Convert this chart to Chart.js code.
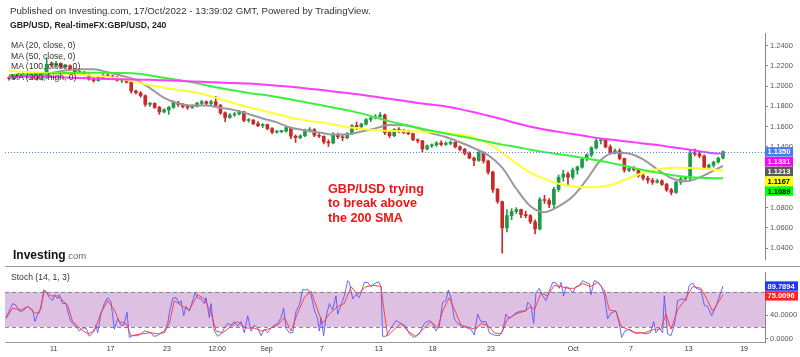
<!DOCTYPE html>
<html><head><meta charset="utf-8">
<script src="https://cdn.jsdelivr.net/npm/chart.js@4/dist/chart.umd.min.js"></script>
<style>
html,body{margin:0;padding:0;background:#fff;}
#wrap{position:relative;width:800px;height:357px;overflow:hidden;font-family:"Liberation Sans",Arial,sans-serif;}
#cA{position:absolute;left:0;top:0;}
#cB{position:absolute;left:0;top:266px;}
.t{position:absolute;white-space:nowrap;color:#333;line-height:12px;}
</style></head><body>
<div id="wrap">
<canvas id="cA" width="800" height="266"></canvas>
<canvas id="cB" width="800" height="91"></canvas>
<div class="t" style="left:10px;top:5px;font-size:9.7px;">Published on Investing.com, 17/Oct/2022 - 13:39:02 GMT, Powered by TradingView.</div>
<div class="t" style="left:10px;top:19px;font-size:8.7px;font-weight:bold;color:#222;">GBP/USD, Real-timeFX:GBP/USD, 240</div>
<div class="t" style="left:11px;top:39px;font-size:8.6px;">MA (20, close, 0)</div>
<div class="t" style="left:11px;top:49.5px;font-size:8.6px;">MA (50, close, 0)</div>
<div class="t" style="left:11px;top:60px;font-size:8.6px;">MA (100, close, 0)</div>
<div class="t" style="left:11px;top:70.5px;font-size:8.6px;">MA (200, high, 0)</div>
<div class="t" style="left:328px;top:181.5px;font-size:12.6px;line-height:14.5px;font-weight:bold;color:#f01414;">GBP/USD trying<br>to break above<br>the 200 SMA</div>
<div class="t" style="left:13px;top:247px;line-height:14px;"><span style="font-weight:bold;font-size:12px;color:#111;">Investing</span><span style="font-size:9.5px;color:#666;"><span style="color:#f5a300;">.</span>com</span></div>
<div class="t" style="left:11px;top:270.7px;font-size:8.6px;">Stoch (14, 1, 3)</div>
</div>
<script>
// ---- price candles (8h), index = candle number ----
const opens  = [1.2080,1.2075,1.2090,1.2120,1.2105,1.2090,1.2080,1.2075,1.2080,1.2215,1.2210,1.2225,1.2195,1.2200,1.2170,1.2135,1.2140,1.2110,1.2070,1.2055,1.2085,1.2110,1.2100,1.2085,1.2060,1.2065,1.2040,1.1950,1.1935,1.1905,1.1820,1.1830,1.1790,1.1745,1.1765,1.1790,1.1840,1.1820,1.1800,1.1790,1.1800,1.1830,1.1845,1.1830,1.1845,1.1810,1.1735,1.1690,1.1715,1.1725,1.1745,1.1660,1.1665,1.1630,1.1610,1.1620,1.1580,1.1545,1.1550,1.1555,1.1590,1.1505,1.1490,1.1510,1.1560,1.1570,1.1515,1.1505,1.1450,1.1440,1.1525,1.1500,1.1490,1.1530,1.1610,1.1600,1.1625,1.1670,1.1685,1.1700,1.1715,1.1540,1.1510,1.1570,1.1555,1.1540,1.1530,1.1470,1.1460,1.1380,1.1410,1.1420,1.1440,1.1425,1.1435,1.1445,1.1400,1.1375,1.1335,1.1290,1.1265,1.1345,1.1260,1.1150,1.0980,1.0860,1.0600,1.0720,1.0760,1.0780,1.0730,1.0720,1.0660,1.0590,1.0880,1.0870,1.0830,1.0980,1.1100,1.1130,1.1100,1.1170,1.1200,1.1280,1.1320,1.1390,1.1460,1.1470,1.1400,1.1345,1.1360,1.1285,1.1170,1.1185,1.1175,1.1115,1.1090,1.1070,1.1050,1.1065,1.1030,1.0975,1.0950,1.1050,1.1085,1.1090,1.1340,1.1330,1.1310,1.1200,1.1220,1.1250,1.1290];
const highs  = [1.2095,1.2095,1.2130,1.2130,1.2115,1.2110,1.2090,1.2090,1.2277,1.2240,1.2245,1.2230,1.2205,1.2210,1.2175,1.2150,1.2145,1.2120,1.2085,1.2090,1.2120,1.2125,1.2110,1.2095,1.2075,1.2070,1.2045,1.1960,1.1945,1.1915,1.1840,1.1835,1.1800,1.1775,1.1800,1.1855,1.1850,1.1830,1.1815,1.1815,1.1840,1.1860,1.1855,1.1860,1.1900,1.1820,1.1745,1.1730,1.1740,1.1760,1.1750,1.1680,1.1670,1.1650,1.1630,1.1625,1.1590,1.1560,1.1560,1.1600,1.1595,1.1520,1.1520,1.1575,1.1590,1.1580,1.1530,1.1510,1.1470,1.1540,1.1535,1.1515,1.1540,1.1620,1.1645,1.1635,1.1680,1.1700,1.1720,1.1738,1.1725,1.1560,1.1580,1.1590,1.1570,1.1565,1.1535,1.1480,1.1465,1.1420,1.1430,1.1450,1.1460,1.1450,1.1460,1.1450,1.1410,1.1385,1.1350,1.1300,1.1360,1.1350,1.1270,1.1160,1.0990,1.0865,1.0780,1.0790,1.0800,1.0785,1.0765,1.0730,1.0680,1.0900,1.0920,1.0890,1.1000,1.1120,1.1170,1.1150,1.1190,1.1210,1.1300,1.1330,1.1400,1.1495,1.1480,1.1475,1.1420,1.1380,1.1380,1.1290,1.1200,1.1205,1.1185,1.1130,1.1110,1.1090,1.1080,1.1075,1.1040,1.0990,1.1060,1.1110,1.1110,1.1370,1.1380,1.1345,1.1320,1.1230,1.1260,1.1300,1.1360];
const lows   = [1.2060,1.2065,1.2085,1.2100,1.2080,1.2070,1.2060,1.2060,1.2075,1.2190,1.2190,1.2180,1.2180,1.2160,1.2120,1.2125,1.2100,1.2060,1.2040,1.2050,1.2070,1.2090,1.2070,1.2050,1.2035,1.2030,1.1930,1.1920,1.1890,1.1800,1.1800,1.1780,1.1720,1.1735,1.1720,1.1780,1.1800,1.1785,1.1770,1.1780,1.1795,1.1810,1.1815,1.1810,1.1800,1.1720,1.1650,1.1680,1.1700,1.1715,1.1650,1.1645,1.1620,1.1600,1.1590,1.1570,1.1530,1.1535,1.1540,1.1545,1.1480,1.1445,1.1480,1.1500,1.1545,1.1500,1.1490,1.1430,1.1405,1.1430,1.1480,1.1460,1.1480,1.1520,1.1570,1.1585,1.1615,1.1650,1.1675,1.1690,1.1520,1.1490,1.1500,1.1540,1.1530,1.1520,1.1460,1.1440,1.1350,1.1370,1.1395,1.1405,1.1410,1.1415,1.1420,1.1390,1.1360,1.1320,1.1280,1.1215,1.1255,1.1240,1.1130,1.0950,1.0840,1.0350,1.0560,1.0680,1.0740,1.0700,1.0700,1.0640,1.0540,1.0580,1.0840,1.0800,1.0800,1.0960,1.1060,1.1020,1.1080,1.1130,1.1190,1.1260,1.1300,1.1380,1.1430,1.1390,1.1330,1.1330,1.1270,1.1150,1.1155,1.1160,1.1100,1.1070,1.1040,1.1030,1.1040,1.1020,1.0960,1.0925,1.0940,1.1030,1.1055,1.1060,1.1310,1.1290,1.1190,1.1185,1.1200,1.1240,1.1280];
const closes = [1.2075,1.2090,1.2120,1.2105,1.2090,1.2080,1.2075,1.2080,1.2215,1.2210,1.2225,1.2195,1.2200,1.2170,1.2135,1.2140,1.2110,1.2070,1.2055,1.2085,1.2110,1.2100,1.2085,1.2060,1.2065,1.2040,1.1950,1.1935,1.1905,1.1820,1.1830,1.1790,1.1745,1.1765,1.1790,1.1840,1.1820,1.1800,1.1790,1.1800,1.1830,1.1845,1.1830,1.1845,1.1810,1.1735,1.1690,1.1715,1.1725,1.1745,1.1660,1.1665,1.1630,1.1610,1.1620,1.1580,1.1545,1.1550,1.1555,1.1590,1.1505,1.1490,1.1510,1.1560,1.1570,1.1515,1.1505,1.1450,1.1440,1.1525,1.1500,1.1490,1.1530,1.1610,1.1600,1.1625,1.1670,1.1685,1.1700,1.1715,1.1540,1.1510,1.1570,1.1555,1.1540,1.1530,1.1470,1.1460,1.1380,1.1410,1.1420,1.1440,1.1425,1.1435,1.1445,1.1400,1.1375,1.1335,1.1290,1.1265,1.1345,1.1260,1.1150,1.0980,1.0860,1.0600,1.0720,1.0760,1.0780,1.0730,1.0720,1.0660,1.0590,1.0880,1.0870,1.0830,1.0980,1.1100,1.1130,1.1100,1.1170,1.1200,1.1280,1.1320,1.1390,1.1460,1.1470,1.1400,1.1345,1.1360,1.1285,1.1170,1.1185,1.1175,1.1115,1.1090,1.1070,1.1050,1.1065,1.1030,1.0975,1.0950,1.1050,1.1085,1.1090,1.1340,1.1330,1.1310,1.1200,1.1220,1.1250,1.1290,1.1350];

// ---- moving averages, sampled at candle indices ----
const maIdx = [0,3,6,9,12,15,18,21,24,27,30,33,36,39,42,45,48,51,54,57,60,63,66,69,72,75,78,81,84,87,90,93,96,99,102,105,108,111,114,117,120,123,126,129,132,135,138,141,144,147,150,152];
const ma20  = [1.2091,1.2096,1.2101,1.2130,1.2154,1.2166,1.2166,1.2137,1.2103,1.2062,1.1980,1.1884,1.1831,1.1808,1.1808,1.1785,1.1763,1.1724,1.1681,1.1642,1.1589,1.1565,1.1541,1.1522,1.1524,1.1551,1.1582,1.1615,1.1614,1.1585,1.1533,1.1498,1.1445,1.1387,1.1319,1.1194,1.0986,1.0813,1.0755,1.0813,1.0909,1.1078,1.1271,1.1343,1.1334,1.1276,1.1179,1.1092,1.1059,1.1097,1.1165,1.1213];
const ma50  = [1.2149,1.2141,1.2134,1.2127,1.2121,1.2112,1.2103,1.2093,1.2070,1.2040,1.2008,1.1985,1.1963,1.1941,1.1912,1.1871,1.1831,1.1792,1.1758,1.1725,1.1688,1.1664,1.1645,1.1622,1.1596,1.1578,1.1564,1.1558,1.1555,1.1552,1.1546,1.1536,1.1524,1.1493,1.1435,1.1343,1.1237,1.1146,1.1083,1.1035,1.1010,1.1001,1.1006,1.1035,1.1092,1.1141,1.1179,1.1194,1.1194,1.1186,1.1175,1.1167];
const ma100 = [1.2111,1.2116,1.2121,1.2126,1.2130,1.2132,1.2132,1.2131,1.2130,1.2125,1.2106,1.2082,1.2060,1.2038,1.2009,1.1981,1.1956,1.1932,1.1915,1.1893,1.1869,1.1842,1.1815,1.1788,1.1761,1.1731,1.1691,1.1652,1.1620,1.1589,1.1559,1.1531,1.1505,1.1479,1.1450,1.1422,1.1399,1.1372,1.1348,1.1328,1.1308,1.1284,1.1261,1.1232,1.1203,1.1172,1.1146,1.1121,1.1104,1.1095,1.1091,1.1089];
const ma200 = [1.2101,1.2098,1.2094,1.2091,1.2085,1.2081,1.2075,1.2071,1.2068,1.2065,1.2062,1.2057,1.2052,1.2047,1.2041,1.2035,1.2030,1.2025,1.2015,1.2004,1.1993,1.1980,1.1964,1.1948,1.1932,1.1914,1.1894,1.1875,1.1856,1.1834,1.1816,1.1799,1.1773,1.1742,1.1707,1.1673,1.1633,1.1599,1.1572,1.1548,1.1526,1.1504,1.1483,1.1467,1.1450,1.1434,1.1418,1.1398,1.1378,1.1357,1.1338,1.1331];

// ---- stochastic (14,1,3): [candle index, value] ----
const stochK = [[-0.66,36],[-0.30,42],[0.76,60],[1.47,57],[2.18,47],[2.89,47],[3.96,55],[5.02,49],[5.52,29],[6.09,42],[6.80,52],[7.36,83],[7.86,81],[8.57,70],[9.28,65],[9.64,75],[10.35,68],[10.70,75],[11.41,60],[12.12,60],[12.47,47],[13.18,29],[14.25,21],[14.96,13],[15.67,18],[16.38,18],[17.09,4],[17.80,10],[18.51,23],[18.86,10],[19.57,42],[20.28,60],[20.99,70],[21.70,63],[22.41,16],[23.12,34],[23.83,23],[24.40,23],[25.11,45],[25.60,2],[26.31,5],[27.38,5],[28.09,8],[28.80,13],[29.51,12],[30.22,10],[30.79,4],[31.64,5],[32.35,10],[33.06,13],[33.77,26],[34.12,44],[34.83,69],[35.54,70],[36.25,60],[36.61,65],[37.17,39],[37.67,55],[38.38,47],[39.09,65],[39.59,78],[40.15,70],[40.86,68],[41.57,60],[41.93,70],[42.64,36],[42.99,60],[43.70,13],[44.41,4],[45.12,8],[45.83,18],[46.54,26],[47.25,23],[47.96,29],[48.67,21],[49.38,29],[50.09,10],[50.80,39],[51.51,13],[52.22,23],[52.93,18],[53.64,5],[54.35,16],[55.06,10],[55.77,18],[56.48,23],[57.19,26],[57.90,36],[58.46,52],[58.96,18],[59.67,10],[60.38,10],[61.09,47],[61.80,57],[62.51,84],[63.22,83],[63.58,85],[64.29,75],[64.99,49],[65.70,34],[66.06,13],[66.41,36],[66.98,5],[67.48,36],[68.19,60],[68.90,49],[69.61,73],[69.96,42],[70.67,57],[71.38,73],[72.09,99],[72.45,96],[73.16,68],[73.87,75],[74.58,70],[75.64,96],[76.35,96],[77.06,89],[77.77,94],[78.69,97],[79.19,89],[79.54,4],[80.25,4],[81.32,18],[82.38,31],[83.45,26],[84.50,21],[85.21,8],[86.28,2],[87.34,8],[88.41,26],[89.47,31],[90.18,26],[90.89,13],[91.60,21],[92.31,62],[93.02,65],[93.52,83],[94.09,70],[94.80,34],[95.51,26],[96.57,21],[97.63,18],[98.34,16],[99.05,6],[99.76,42],[100.47,29],[101.54,29],[102.25,10],[103.31,6],[104.38,5],[105.09,13],[105.80,42],[106.51,34],[107.22,39],[107.93,44],[108.99,47],[110.05,47],[110.41,62],[111.12,57],[111.69,26],[112.18,78],[112.89,86],[113.60,73],[114.31,65],[115.02,81],[115.73,96],[116.44,95],[117.15,86],[117.51,96],[118.07,73],[118.57,89],[119.28,86],[119.99,78],[120.70,89],[121.41,91],[122.12,99],[122.83,96],[123.54,94],[123.89,75],[124.60,99],[125.31,97],[126.02,91],[126.73,75],[127.44,34],[128.15,44],[129.22,47],[129.93,26],[130.42,2],[131.13,13],[132.06,16],[132.77,13],[133.48,9],[134.54,10],[135.60,8],[136.53,10],[137.24,29],[137.73,10],[138.44,18],[139.15,10],[139.51,73],[140.22,8],[140.93,5],[141.64,23],[142.35,65],[143.41,68],[144.12,65],[144.83,91],[145.54,95],[146.25,86],[147.31,83],[148.03,57],[148.73,55],[149.59,39],[150.51,55],[152,89.7894]];
const stochD = [[-0.66,34],[0.76,52],[2.54,49],[3.96,55],[5.38,44],[6.44,44],[7.51,81],[8.93,73],[10.35,73],[12.47,57],[13.54,29],[15.31,16],[16.73,8],[18.15,13],[19.57,44],[20.99,65],[22.41,49],[23.48,29],[24.89,26],[25.96,5],[28.09,8],[30.22,10],[31.64,8],[33.06,10],[34.12,26],[35.19,65],[36.96,55],[38.38,49],[40.15,75],[41.57,68],[42.99,44],[44.06,13],[45.48,10],[47.25,21],[48.67,29],[50.44,18],[52.22,18],[53.64,13],[55.06,16],[57.19,23],[58.61,36],[60.03,13],[61.45,44],[62.87,70],[64.29,81],[65.70,49],[66.77,26],[68.19,42],[69.96,55],[71.38,60],[72.80,89],[74.22,75],[76.00,89],[77.77,91],[79.19,89],[79.90,44],[80.61,5],[82.03,16],[83.45,26],[84.86,13],[86.63,4],[88.41,18],[89.83,29],[91.25,18],[92.31,47],[93.73,70],[95.15,44],[96.22,23],[98.34,18],[99.41,16],[100.47,26],[101.89,23],[103.31,10],[104.73,8],[106.15,34],[107.93,42],[109.70,47],[111.12,55],[111.83,49],[113.25,78],[114.67,73],[116.09,91],[117.51,89],[118.93,86],[120.35,86],[122.12,94],[123.89,89],[125.31,96],[126.73,83],[127.80,49],[129.22,47],[130.28,21],[131.70,16],[133.12,10],[135.25,10],[137.38,16],[138.80,16],[139.86,42],[140.93,16],[142.35,49],[143.77,65],[145.54,89],[147.31,86],[148.73,65],[149.80,47],[152,75.0096]];

// ---- axis ticks ----
const priceTicks = [1.04,1.06,1.08,1.10,1.12,1.14,1.16,1.18,1.20,1.22,1.24];
const stochTicks = [0,40];
const xTickPos = [9.5,21.6,33.6,44.3,54.8,66.6,78.7,90.2,102.6,120.1,132.4,144.7,156.5];
const xTickLabels = ['11','17','23','12:00','Sep','7','13','18','23','Oct','7','13','19'];

const X_MIN = -0.87, X_MAX = 160.95;
const FONT = '"Liberation Sans", Arial, sans-serif';
Chart.defaults.font.family = FONT;

const UP = '#1f9a48', DN = '#c72a2a';
const cColors = closes.map((c,i)=> c >= opens[i] ? UP : DN);

function drawTag(ctx, x, yc, text, bg, fg){
  ctx.save();
  ctx.font = 'bold 7.5px ' + FONT;
  const w = Math.ceil(ctx.measureText(text).width) + 5, h = 9.4;
  ctx.fillStyle = bg; ctx.fillRect(x, yc - h/2, w, h);
  ctx.fillStyle = fg; ctx.textBaseline = 'middle'; ctx.textAlign = 'left';
  ctx.fillText(text, x + 2.5, yc + 0.5);
  ctx.restore();
}
function placeTags(chart, items){
  const y = chart.scales.y;
  items.sort((a,b)=>b.v-a.v);
  let prev = -1e9;
  items.forEach(it=>{
    const py = Math.max(y.getPixelForValue(it.v), prev + 9.8);
    prev = py;
    drawTag(chart.ctx, chart.chartArea.right, py, it.v.toFixed(4), it.bg, it.fg);
  });
}

const yAxisCommon = {
  position:'right',
  afterFit(s){ s.width = 35; },
  grid:{display:true, drawOnChartArea:false, drawTicks:true, tickLength:3, color:'#888'},
  border:{display:true, color:'#888'},
};

const mainDeco = {
  id:'mainDeco',
  afterDatasetsDraw(chart){
    const {ctx, chartArea:a, scales:{y}} = chart;
    const yy = Math.round(y.getPixelForValue(closes[closes.length-1])) + 0.5;
    ctx.save(); ctx.strokeStyle = '#5a7fff'; ctx.lineWidth = 1; ctx.setLineDash([1,2]);
    ctx.beginPath(); ctx.moveTo(a.left, yy); ctx.lineTo(a.right, yy); ctx.stroke(); ctx.restore();
  },
  afterDraw(chart){
    placeTags(chart, [
      {v:closes[closes.length-1], bg:'#4a78e6', fg:'#fff'},
      {v:ma200[ma200.length-1], bg:'#ff00ff', fg:'#fff'},
      {v:ma20[ma20.length-1], bg:'#5a5a5a', fg:'#fff'},
      {v:ma50[ma50.length-1], bg:'#ffff00', fg:'#000'},
      {v:ma100[ma100.length-1], bg:'#00ff00', fg:'#000'}
    ]);
  }
};

const maLine = (vals, color) => ({
  type:'line', data: maIdx.map((x,k)=>({x, y:vals[k]})),
  borderColor: color, borderWidth: 2, pointRadius: 0, fill:false,
  cubicInterpolationMode:'monotone', order: 1
});

new Chart(document.getElementById('cA'), {
  type:'bar',
  data:{ datasets:[
    { data: lows.map((l,i)=>({x:i, y:[l, highs[i]]})), backgroundColor:cColors, barThickness:1, grouped:false, order:3 },
    { data: opens.map((o,i)=>({x:i, y:[o, closes[i]]})), backgroundColor:cColors, barThickness:3, minBarLength:1, grouped:false, order:2 },
    maLine(ma200, '#ff3cff'),
    maLine(ma100, '#3cf03c'),
    maLine(ma50,  '#ffff33'),
    maLine(ma20,  '#9a9a9a')
  ]},
  options:{
    responsive:false, animation:false,
    layout:{padding:{left:5, top:33, right:0, bottom:1}},
    plugins:{legend:{display:false}, tooltip:{enabled:false}},
    scales:{
      x:{type:'linear', min:X_MIN, max:X_MAX, display:false, offset:false},
      y:Object.assign({}, yAxisCommon, {
        min:1.0287, max:1.2525,
        afterBuildTicks(s){ s.ticks = priceTicks.map(v=>({value:v})); },
        ticks:{callback:v=>Number(v).toFixed(4), font:{size:7.5}, color:'#555', padding:2, autoSkip:false}
      })
    }
  },
  plugins:[mainDeco]
});

const stochDeco = {
  id:'stochDeco',
  beforeDatasetsDraw(chart){
    const {ctx, chartArea:a, scales:{y}} = chart;
    const y80 = y.getPixelForValue(80), y20 = y.getPixelForValue(20);
    ctx.save();
    ctx.fillStyle = 'rgb(222,192,226)';
    ctx.fillRect(a.left, y80, a.right - a.left, y20 - y80);
    ctx.strokeStyle = '#8a8a8a'; ctx.lineWidth = 1; ctx.setLineDash([4,3]);
    [y80, y20].forEach(v=>{ const yy = Math.round(v)+0.5; ctx.beginPath(); ctx.moveTo(a.left, yy); ctx.lineTo(a.right, yy); ctx.stroke(); });
    ctx.setLineDash([]); ctx.strokeStyle = '#999';
    ctx.beginPath(); ctx.moveTo(a.left, 0.5); ctx.lineTo(chart.width, 0.5); ctx.stroke();
    ctx.restore();
  },
  afterDraw(chart){
    placeTags(chart, [
      {v:stochK[stochK.length-1][1], bg:'#2036ff', fg:'#fff'},
      {v:stochD[stochD.length-1][1], bg:'#ff2020', fg:'#fff'}
    ]);
  }
};

new Chart(document.getElementById('cB'), {
  type:'line',
  data:{ datasets:[
    { data: stochD.map(p=>({x:p[0], y:p[1]})), borderColor:'rgba(255,60,60,0.95)', borderWidth:1, pointRadius:0, tension:0 },
    { data: stochK.map(p=>({x:p[0], y:p[1]})), borderColor:'rgba(80,80,255,0.85)', borderWidth:1, pointRadius:0, tension:0 }
  ]},
  options:{
    responsive:false, animation:false,
    layout:{padding:{left:5, top:0, right:0, bottom:0}},
    plugins:{legend:{display:false}, tooltip:{enabled:false}},
    scales:{
      x:{type:'linear', min:X_MIN, max:X_MAX, position:'bottom', offset:false,
         afterFit(s){ s.height = 15; },
         afterBuildTicks(s){ s.ticks = xTickPos.map(v=>({value:v})); },
         ticks:{callback:(v,i)=>xTickLabels[i], font:{size:7}, color:'#333', padding:3, maxRotation:0, autoSkip:false},
         grid:{display:false, drawTicks:false},
         border:{display:true, color:'#999'}
      },
      y:Object.assign({}, yAxisCommon, {
        min:-5.8, max:113,
        afterBuildTicks(s){ s.ticks = stochTicks.map(v=>({value:v})); },
        ticks:{callback:v=>Number(v).toFixed(4), font:{size:7.5}, color:'#555', padding:2, autoSkip:false}
      })
    }
  },
  plugins:[stochDeco]
});
</script>
</body></html>
